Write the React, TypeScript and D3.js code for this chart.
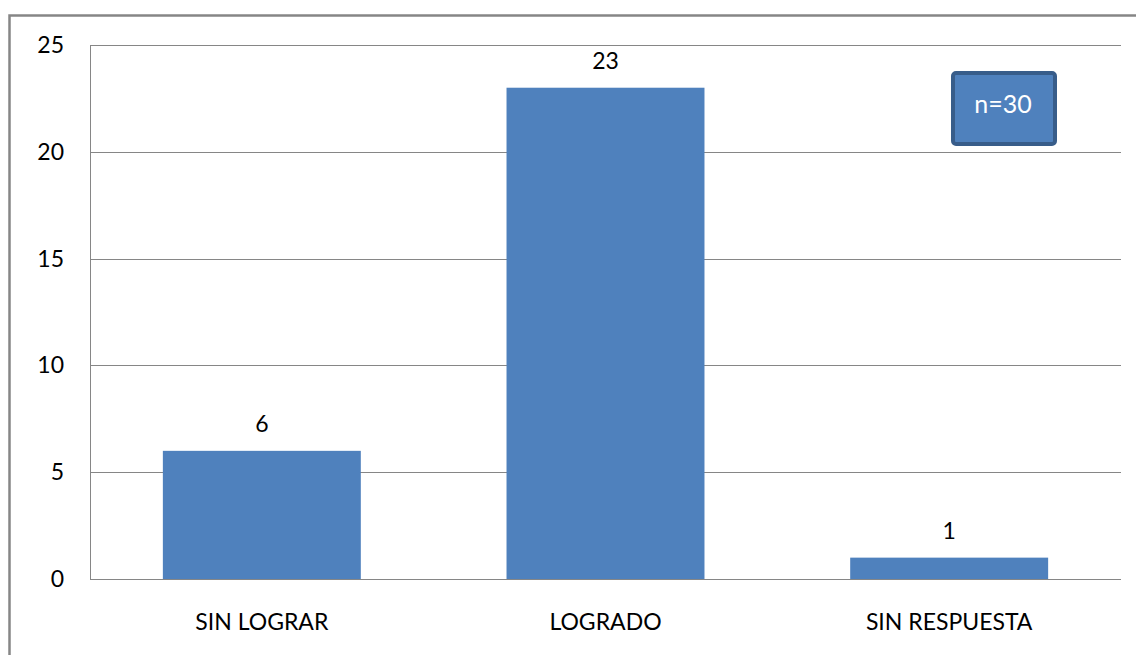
import React from "react";
import * as d3 from "d3";

const categories = ["SIN LOGRAR", "LOGRADO", "SIN RESPUESTA"];
const values = [6, 23, 1];
const yTicks = [0, 5, 10, 15, 20, 25];
const noteText = "n=30";

const W = 1136;
const H = 655;
const plot = { left: 90, right: 1121, top: 45, bottom: 579 };
const FONT = "Lato, 'Open Sans', sans-serif";

export default function App() {
  const x = d3
    .scaleBand<string>()
    .domain(categories)
    .range([plot.left, plot.right])
    .paddingInner(0.424)
    .paddingOuter(0.212);
  const y = d3.scaleLinear().domain([0, 25]).range([plot.bottom, plot.top]);

  return (
    <svg
      width={W}
      height={H}
      style={{ position: "absolute", left: 0, top: 0, background: "#fff" }}
    >
      <rect x={9.5} y={15.5} width={1140} height={660} fill="#fff" stroke="#868686" strokeWidth={2.5} />
      {yTicks.map((t) => (
        <g key={t}>
          <line
            x1={plot.left}
            x2={plot.right}
            y1={Math.round(y(t)) + 0.5}
            y2={Math.round(y(t)) + 0.5}
            stroke="#868686"
            strokeWidth={1}
          />
          <text
            x={64}
            y={y(t)}
            dy="0.35em"
            textAnchor="end"
            fontFamily={FONT}
            fontSize={23}
            fill="#000"
          >
            {t}
          </text>
        </g>
      ))}
      <line x1={plot.left + 0.5} x2={plot.left + 0.5} y1={plot.top} y2={plot.bottom} stroke="#868686" />
      {categories.map((c, i) => (
        <g key={c}>
          <rect
            x={x(c)!}
            y={y(values[i])}
            width={x.bandwidth()}
            height={plot.bottom - y(values[i])}
            fill="#4f81bd"
          />
          <text
            x={x(c)! + x.bandwidth() / 2}
            y={y(values[i]) - 19}
            textAnchor="middle"
            fontFamily={FONT}
            fontSize={23}
            fill="#000"
          >
            {values[i]}
          </text>
          <text
            x={x(c)! + x.bandwidth() / 2}
            y={630}
            textAnchor="middle"
            fontFamily={FONT}
            fontSize={23}
            fill="#000"
          >
            {c}
          </text>
        </g>
      ))}
      <rect x={953} y={73} width={102} height={71} rx={3} fill="#4f81bd" stroke="#385d8a" strokeWidth={4} />
      <text x={1003} y={104} dy="0.35em" textAnchor="middle" fontFamily={FONT} fontSize={25} fill="#fff">
        {noteText}
      </text>
    </svg>
  );
}
